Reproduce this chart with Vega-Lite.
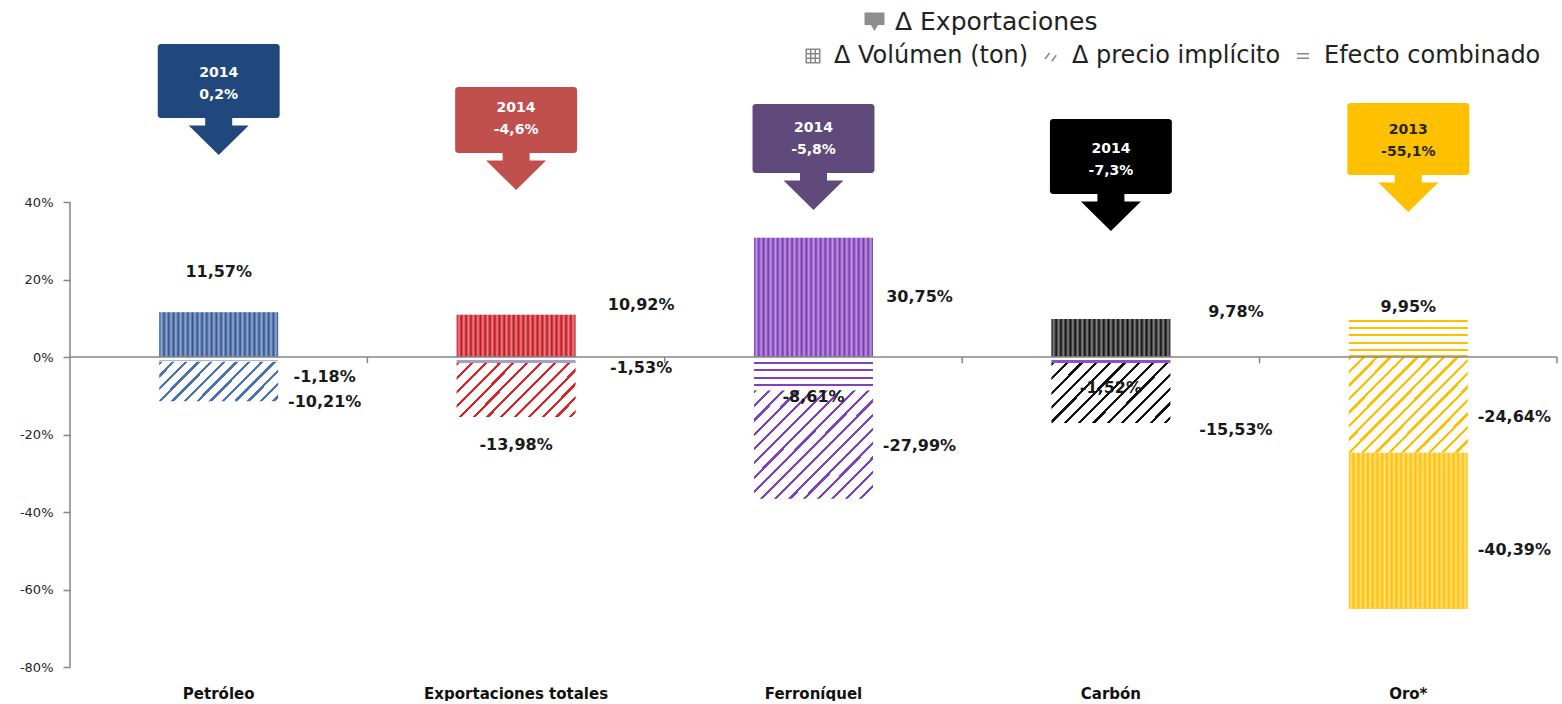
{
  "$schema": "https://vega.github.io/schema/vega-lite/v6.json",
  "width": 1487,
  "height": 667,
  "padding": {"left": 5, "top": 0, "right": 5, "bottom": 0},
  "background": "white",
  "config": {
    "view": {"stroke": null},
    "axisX": {"grid": false, "domain": false, "ticks": false, "labelAngle": 0, "labelFont": "DejaVu Sans", "labelFontWeight": "bold", "labelFontSize": 15, "labelColor": "#111111", "labelPadding": 19, "labelLimit": 400},
    "axisY": {"grid": false, "domain": false, "ticks": true, "tickSize": 7, "tickColor": "#868686", "tickWidth": 1.5, "labelPadding": 10, "labelFont": "DejaVu Sans", "labelFontSize": 13, "labelColor": "#262626", "minExtent": 65, "maxExtent": 65}
  },
  "datasets": {
    "seg": [
      {"cat": "Petróleo", "serie": "Δ Volúmen (ton)", "n": 3, "v": 11.57},
      {"cat": "Petróleo", "serie": "Δ precio implícito", "n": 2, "v": -10.21},
      {"cat": "Petróleo", "serie": "Efecto combinado", "n": 1, "v": -1.18},
      {"cat": "Exportaciones totales", "serie": "Δ Volúmen (ton)", "n": 3, "v": 10.92},
      {"cat": "Exportaciones totales", "serie": "Δ precio implícito", "n": 2, "v": -13.98},
      {"cat": "Exportaciones totales", "serie": "Efecto combinado", "n": 1, "v": -1.53},
      {"cat": "Ferroníquel", "serie": "Δ Volúmen (ton)", "n": 3, "v": 30.75},
      {"cat": "Ferroníquel", "serie": "Δ precio implícito", "n": 2, "v": -27.99},
      {"cat": "Ferroníquel", "serie": "Efecto combinado", "n": 1, "v": -8.61},
      {"cat": "Carbón", "serie": "Δ Volúmen (ton)", "n": 3, "v": 9.78},
      {"cat": "Carbón", "serie": "Δ precio implícito", "n": 2, "v": -15.53},
      {"cat": "Carbón", "serie": "Efecto combinado", "n": 1, "v": -1.52},
      {"cat": "Oro*", "serie": "Δ Volúmen (ton)", "n": 3, "v": -40.39},
      {"cat": "Oro*", "serie": "Δ precio implícito", "n": 2, "v": -24.64},
      {"cat": "Oro*", "serie": "Efecto combinado", "n": 1, "v": 9.95}
    ],
    "lab": [
      {"cat": "Petróleo", "txt": "11,57%", "ly": 21.9, "pos": "c"},
      {"cat": "Petróleo", "txt": "-1,18%", "ly": -5.2, "pos": "r1"},
      {"cat": "Petróleo", "txt": "-10,21%", "ly": -11.6, "pos": "r1"},
      {"cat": "Exportaciones totales", "txt": "10,92%", "ly": 13.4, "pos": "r2"},
      {"cat": "Exportaciones totales", "txt": "-1,53%", "ly": -2.8, "pos": "r2"},
      {"cat": "Exportaciones totales", "txt": "-13,98%", "ly": -22.7, "pos": "c"},
      {"cat": "Ferroníquel", "txt": "30,75%", "ly": 15.5, "pos": "r1"},
      {"cat": "Ferroníquel", "txt": "-8,61%", "ly": -10.3, "pos": "c"},
      {"cat": "Ferroníquel", "txt": "-27,99%", "ly": -23.0, "pos": "r1"},
      {"cat": "Carbón", "txt": "9,78%", "ly": 11.6, "pos": "r2"},
      {"cat": "Carbón", "txt": "-1,52%", "ly": -8.0, "pos": "c"},
      {"cat": "Carbón", "txt": "-15,53%", "ly": -18.8, "pos": "r2"},
      {"cat": "Oro*", "txt": "9,95%", "ly": 12.9, "pos": "c"},
      {"cat": "Oro*", "txt": "-24,64%", "ly": -15.5, "pos": "r1"},
      {"cat": "Oro*", "txt": "-40,39%", "ly": -49.8, "pos": "r1"}
    ],
    "call": [
      {"cat": "Petróleo", "yr": "2014", "txt": "0,2%", "top": 80.77, "bot": 61.68, "leg": "Δ Exportaciones"},
      {"cat": "Exportaciones totales", "yr": "2014", "txt": "-4,6%", "top": 69.68, "bot": 52.65, "leg": "Δ Exportaciones"},
      {"cat": "Ferroníquel", "yr": "2014", "txt": "-5,8%", "top": 65.29, "bot": 47.48, "leg": "Δ Exportaciones"},
      {"cat": "Carbón", "yr": "2014", "txt": "-7,3%", "top": 61.42, "bot": 42.06, "leg": "Δ Exportaciones"},
      {"cat": "Oro*", "yr": "2013", "txt": "-55,1%", "top": 65.55, "bot": 46.97, "leg": "Δ Exportaciones"}
    ],
    "series": [
      {"serie": "Δ Volúmen (ton)", "cat": "Petróleo"},
      {"serie": "Δ precio implícito", "cat": "Petróleo"},
      {"serie": "Efecto combinado", "cat": "Petróleo"}
    ]
  },
  "layer": [
    {
      "data": {"values": [{"z": 0}]},
      "mark": {"type": "rule", "color": "#868686", "strokeWidth": 1.5},
      "encoding": {
        "x": {"datum": "Petróleo", "type": "nominal", "bandPosition": 0, "title": null,
          "scale": {"domain": ["Petróleo", "Exportaciones totales", "Ferroníquel", "Carbón", "Oro*"], "paddingInner": 0, "paddingOuter": 0}},
        "y": {"datum": -80, "type": "quantitative", "title": null,
          "scale": {"domain": [-80, 92.13], "nice": false, "zero": false},
          "axis": {"values": [-80, -60, -40, -20, 0, 20, 40], "labelExpr": "datum.value + '%'"}},
        "y2": {"datum": 40}
      }
    },
    {
      "data": {"name": "seg"},
      "transform": [{"stack": "v", "groupby": ["cat"], "sort": [{"field": "n", "order": "ascending"}], "as": ["y0", "y1"]}],
      "encoding": {
        "x": {"field": "cat", "type": "nominal", "title": null, "scale": {"domain": ["Petróleo", "Exportaciones totales", "Ferroníquel", "Carbón", "Oro*"], "paddingInner": 0, "paddingOuter": 0}},
        "y": {"field": "y0", "type": "quantitative", "title": null, "scale": {"domain": [-80, 92.13], "nice": false, "zero": false}},
        "y2": {"field": "y1"}
      },
      "layer": [
        {
          "transform": [{"filter": "datum.n == 3"}],
          "mark": {"type": "bar", "width": {"band": 0.4}},
          "encoding": {"color": {"field": "cat", "type": "nominal", "scale": {"domain": ["Petróleo", "Exportaciones totales", "Ferroníquel", "Carbón", "Oro*"], "range": ["#2f5597", "#c8101a", "#7a36b8", "#0d0d0d", "#ffc000"]}, "legend": null}}
        },
        {
          "transform": [{"filter": "datum.n == 3"}],
          "mark": {"type": "bar", "width": {"band": 0.4}, "fill": {"gradient": "linear", "x1": 0, "y1": 0, "x2": 1, "y2": 0, "stops": [
            {"offset": 0, "color": "rgba(255,255,255,0)"}, {"offset": 0.02, "color": "rgba(255,255,255,0.5)"},
            {"offset": 0.04, "color": "rgba(255,255,255,0)"}, {"offset": 0.06, "color": "rgba(255,255,255,0.5)"},
            {"offset": 0.08, "color": "rgba(255,255,255,0)"}, {"offset": 0.1, "color": "rgba(255,255,255,0.5)"},
            {"offset": 0.12, "color": "rgba(255,255,255,0)"}, {"offset": 0.14, "color": "rgba(255,255,255,0.5)"},
            {"offset": 0.16, "color": "rgba(255,255,255,0)"}, {"offset": 0.18, "color": "rgba(255,255,255,0.5)"},
            {"offset": 0.2, "color": "rgba(255,255,255,0)"}, {"offset": 0.22, "color": "rgba(255,255,255,0.5)"},
            {"offset": 0.24, "color": "rgba(255,255,255,0)"}, {"offset": 0.26, "color": "rgba(255,255,255,0.5)"},
            {"offset": 0.28, "color": "rgba(255,255,255,0)"}, {"offset": 0.3, "color": "rgba(255,255,255,0.5)"},
            {"offset": 0.32, "color": "rgba(255,255,255,0)"}, {"offset": 0.34, "color": "rgba(255,255,255,0.5)"},
            {"offset": 0.36, "color": "rgba(255,255,255,0)"}, {"offset": 0.38, "color": "rgba(255,255,255,0.5)"},
            {"offset": 0.4, "color": "rgba(255,255,255,0)"}, {"offset": 0.42, "color": "rgba(255,255,255,0.5)"},
            {"offset": 0.44, "color": "rgba(255,255,255,0)"}, {"offset": 0.46, "color": "rgba(255,255,255,0.5)"},
            {"offset": 0.48, "color": "rgba(255,255,255,0)"}, {"offset": 0.5, "color": "rgba(255,255,255,0.5)"},
            {"offset": 0.52, "color": "rgba(255,255,255,0)"}, {"offset": 0.54, "color": "rgba(255,255,255,0.5)"},
            {"offset": 0.56, "color": "rgba(255,255,255,0)"}, {"offset": 0.58, "color": "rgba(255,255,255,0.5)"},
            {"offset": 0.6, "color": "rgba(255,255,255,0)"}, {"offset": 0.62, "color": "rgba(255,255,255,0.5)"},
            {"offset": 0.64, "color": "rgba(255,255,255,0)"}, {"offset": 0.66, "color": "rgba(255,255,255,0.5)"},
            {"offset": 0.68, "color": "rgba(255,255,255,0)"}, {"offset": 0.7, "color": "rgba(255,255,255,0.5)"},
            {"offset": 0.72, "color": "rgba(255,255,255,0)"}, {"offset": 0.74, "color": "rgba(255,255,255,0.5)"},
            {"offset": 0.76, "color": "rgba(255,255,255,0)"}, {"offset": 0.78, "color": "rgba(255,255,255,0.5)"},
            {"offset": 0.8, "color": "rgba(255,255,255,0)"}, {"offset": 0.82, "color": "rgba(255,255,255,0.5)"},
            {"offset": 0.84, "color": "rgba(255,255,255,0)"}, {"offset": 0.86, "color": "rgba(255,255,255,0.5)"},
            {"offset": 0.88, "color": "rgba(255,255,255,0)"}, {"offset": 0.9, "color": "rgba(255,255,255,0.5)"},
            {"offset": 0.92, "color": "rgba(255,255,255,0)"}, {"offset": 0.94, "color": "rgba(255,255,255,0.5)"},
            {"offset": 0.96, "color": "rgba(255,255,255,0)"}, {"offset": 0.98, "color": "rgba(255,255,255,0.5)"},
            {"offset": 1, "color": "rgba(255,255,255,0)"}
          ]}}
        },
        {
          "transform": [{"filter": "datum.n == 2 && datum.cat == 'Petróleo'"}],
          "mark": {"type": "bar", "width": {"band": 0.4}, "fill": {"gradient": "linear", "x1": 0, "y1": 0, "x2": 1.199, "y2": 0.395, "stops": [
            {"offset": 0, "color": "#4a72b5"}, {"offset": 0.022, "color": "#4a72b5"}, {"offset": 0.022, "color": "#ffffff"}, {"offset": 0.08, "color": "#ffffff"},
            {"offset": 0.08, "color": "#4a72b5"}, {"offset": 0.102, "color": "#4a72b5"}, {"offset": 0.102, "color": "#ffffff"}, {"offset": 0.16, "color": "#ffffff"},
            {"offset": 0.16, "color": "#4a72b5"}, {"offset": 0.182, "color": "#4a72b5"}, {"offset": 0.182, "color": "#ffffff"}, {"offset": 0.24, "color": "#ffffff"},
            {"offset": 0.24, "color": "#4a72b5"}, {"offset": 0.262, "color": "#4a72b5"}, {"offset": 0.262, "color": "#ffffff"}, {"offset": 0.32, "color": "#ffffff"},
            {"offset": 0.32, "color": "#4a72b5"}, {"offset": 0.342, "color": "#4a72b5"}, {"offset": 0.342, "color": "#ffffff"}, {"offset": 0.4, "color": "#ffffff"},
            {"offset": 0.4, "color": "#4a72b5"}, {"offset": 0.422, "color": "#4a72b5"}, {"offset": 0.422, "color": "#ffffff"}, {"offset": 0.48, "color": "#ffffff"},
            {"offset": 0.48, "color": "#4a72b5"}, {"offset": 0.502, "color": "#4a72b5"}, {"offset": 0.502, "color": "#ffffff"}, {"offset": 0.56, "color": "#ffffff"},
            {"offset": 0.56, "color": "#4a72b5"}, {"offset": 0.582, "color": "#4a72b5"}, {"offset": 0.582, "color": "#ffffff"}, {"offset": 0.64, "color": "#ffffff"},
            {"offset": 0.64, "color": "#4a72b5"}, {"offset": 0.662, "color": "#4a72b5"}, {"offset": 0.662, "color": "#ffffff"}, {"offset": 0.72, "color": "#ffffff"},
            {"offset": 0.72, "color": "#4a72b5"}, {"offset": 0.742, "color": "#4a72b5"}, {"offset": 0.742, "color": "#ffffff"}, {"offset": 0.8, "color": "#ffffff"},
            {"offset": 0.8, "color": "#4a72b5"}, {"offset": 0.822, "color": "#4a72b5"}, {"offset": 0.822, "color": "#ffffff"}, {"offset": 0.88, "color": "#ffffff"},
            {"offset": 0.88, "color": "#4a72b5"}, {"offset": 0.902, "color": "#4a72b5"}, {"offset": 0.902, "color": "#ffffff"}, {"offset": 0.96, "color": "#ffffff"},
            {"offset": 0.96, "color": "#4a72b5"}, {"offset": 0.982, "color": "#4a72b5"}, {"offset": 0.982, "color": "#ffffff"}, {"offset": 1, "color": "#ffffff"}
          ]}}
        },
        {
          "transform": [{"filter": "datum.n == 2 && datum.cat == 'Exportaciones totales'"}],
          "mark": {"type": "bar", "width": {"band": 0.4}, "fill": {"gradient": "linear", "x1": 0, "y1": 0, "x2": 1.206, "y2": 0.544, "stops": [
            {"offset": 0, "color": "#d9252a"}, {"offset": 0.018, "color": "#d9252a"}, {"offset": 0.018, "color": "#ffffff"}, {"offset": 0.08, "color": "#ffffff"},
            {"offset": 0.08, "color": "#d9252a"}, {"offset": 0.098, "color": "#d9252a"}, {"offset": 0.098, "color": "#ffffff"}, {"offset": 0.16, "color": "#ffffff"},
            {"offset": 0.16, "color": "#d9252a"}, {"offset": 0.178, "color": "#d9252a"}, {"offset": 0.178, "color": "#ffffff"}, {"offset": 0.24, "color": "#ffffff"},
            {"offset": 0.24, "color": "#d9252a"}, {"offset": 0.258, "color": "#d9252a"}, {"offset": 0.258, "color": "#ffffff"}, {"offset": 0.32, "color": "#ffffff"},
            {"offset": 0.32, "color": "#d9252a"}, {"offset": 0.338, "color": "#d9252a"}, {"offset": 0.338, "color": "#ffffff"}, {"offset": 0.4, "color": "#ffffff"},
            {"offset": 0.4, "color": "#d9252a"}, {"offset": 0.418, "color": "#d9252a"}, {"offset": 0.418, "color": "#ffffff"}, {"offset": 0.48, "color": "#ffffff"},
            {"offset": 0.48, "color": "#d9252a"}, {"offset": 0.498, "color": "#d9252a"}, {"offset": 0.498, "color": "#ffffff"}, {"offset": 0.56, "color": "#ffffff"},
            {"offset": 0.56, "color": "#d9252a"}, {"offset": 0.578, "color": "#d9252a"}, {"offset": 0.578, "color": "#ffffff"}, {"offset": 0.64, "color": "#ffffff"},
            {"offset": 0.64, "color": "#d9252a"}, {"offset": 0.658, "color": "#d9252a"}, {"offset": 0.658, "color": "#ffffff"}, {"offset": 0.72, "color": "#ffffff"},
            {"offset": 0.72, "color": "#d9252a"}, {"offset": 0.738, "color": "#d9252a"}, {"offset": 0.738, "color": "#ffffff"}, {"offset": 0.8, "color": "#ffffff"},
            {"offset": 0.8, "color": "#d9252a"}, {"offset": 0.818, "color": "#d9252a"}, {"offset": 0.818, "color": "#ffffff"}, {"offset": 0.88, "color": "#ffffff"},
            {"offset": 0.88, "color": "#d9252a"}, {"offset": 0.898, "color": "#d9252a"}, {"offset": 0.898, "color": "#ffffff"}, {"offset": 0.96, "color": "#ffffff"},
            {"offset": 0.96, "color": "#d9252a"}, {"offset": 0.978, "color": "#d9252a"}, {"offset": 0.978, "color": "#ffffff"}, {"offset": 1, "color": "#ffffff"}
          ]}}
        },
        {
          "transform": [{"filter": "datum.n == 2 && datum.cat == 'Ferroníquel'"}],
          "mark": {"type": "bar", "width": {"band": 0.4}, "fill": {"gradient": "linear", "x1": 0, "y1": 0, "x2": 1.048, "y2": 0.947, "stops": [
            {"offset": 0, "color": "#8041bf"}, {"offset": 0.014, "color": "#8041bf"}, {"offset": 0.014, "color": "#ffffff"}, {"offset": 0.0625, "color": "#ffffff"},
            {"offset": 0.0625, "color": "#8041bf"}, {"offset": 0.0765, "color": "#8041bf"}, {"offset": 0.0765, "color": "#ffffff"}, {"offset": 0.125, "color": "#ffffff"},
            {"offset": 0.125, "color": "#8041bf"}, {"offset": 0.139, "color": "#8041bf"}, {"offset": 0.139, "color": "#ffffff"}, {"offset": 0.1875, "color": "#ffffff"},
            {"offset": 0.1875, "color": "#8041bf"}, {"offset": 0.2015, "color": "#8041bf"}, {"offset": 0.2015, "color": "#ffffff"}, {"offset": 0.25, "color": "#ffffff"},
            {"offset": 0.25, "color": "#8041bf"}, {"offset": 0.264, "color": "#8041bf"}, {"offset": 0.264, "color": "#ffffff"}, {"offset": 0.3125, "color": "#ffffff"},
            {"offset": 0.3125, "color": "#8041bf"}, {"offset": 0.3265, "color": "#8041bf"}, {"offset": 0.3265, "color": "#ffffff"}, {"offset": 0.375, "color": "#ffffff"},
            {"offset": 0.375, "color": "#8041bf"}, {"offset": 0.389, "color": "#8041bf"}, {"offset": 0.389, "color": "#ffffff"}, {"offset": 0.4375, "color": "#ffffff"},
            {"offset": 0.4375, "color": "#8041bf"}, {"offset": 0.4515, "color": "#8041bf"}, {"offset": 0.4515, "color": "#ffffff"}, {"offset": 0.5, "color": "#ffffff"},
            {"offset": 0.5, "color": "#8041bf"}, {"offset": 0.514, "color": "#8041bf"}, {"offset": 0.514, "color": "#ffffff"}, {"offset": 0.5625, "color": "#ffffff"},
            {"offset": 0.5625, "color": "#8041bf"}, {"offset": 0.5765, "color": "#8041bf"}, {"offset": 0.5765, "color": "#ffffff"}, {"offset": 0.625, "color": "#ffffff"},
            {"offset": 0.625, "color": "#8041bf"}, {"offset": 0.639, "color": "#8041bf"}, {"offset": 0.639, "color": "#ffffff"}, {"offset": 0.6875, "color": "#ffffff"},
            {"offset": 0.6875, "color": "#8041bf"}, {"offset": 0.7015, "color": "#8041bf"}, {"offset": 0.7015, "color": "#ffffff"}, {"offset": 0.75, "color": "#ffffff"},
            {"offset": 0.75, "color": "#8041bf"}, {"offset": 0.764, "color": "#8041bf"}, {"offset": 0.764, "color": "#ffffff"}, {"offset": 0.8125, "color": "#ffffff"},
            {"offset": 0.8125, "color": "#8041bf"}, {"offset": 0.8265, "color": "#8041bf"}, {"offset": 0.8265, "color": "#ffffff"}, {"offset": 0.875, "color": "#ffffff"},
            {"offset": 0.875, "color": "#8041bf"}, {"offset": 0.889, "color": "#8041bf"}, {"offset": 0.889, "color": "#ffffff"}, {"offset": 0.9375, "color": "#ffffff"},
            {"offset": 0.9375, "color": "#8041bf"}, {"offset": 0.9515, "color": "#8041bf"}, {"offset": 0.9515, "color": "#ffffff"}, {"offset": 1, "color": "#ffffff"}
          ]}}
        },
        {
          "transform": [{"filter": "datum.n == 2 && datum.cat == 'Carbón'"}],
          "mark": {"type": "bar", "width": {"band": 0.4}, "fill": {"gradient": "linear", "x1": 0, "y1": 0, "x2": 1.2, "y2": 0.602, "stops": [
            {"offset": 0, "color": "#111111"}, {"offset": 0.018, "color": "#111111"}, {"offset": 0.018, "color": "#ffffff"}, {"offset": 0.08, "color": "#ffffff"},
            {"offset": 0.08, "color": "#111111"}, {"offset": 0.098, "color": "#111111"}, {"offset": 0.098, "color": "#ffffff"}, {"offset": 0.16, "color": "#ffffff"},
            {"offset": 0.16, "color": "#111111"}, {"offset": 0.178, "color": "#111111"}, {"offset": 0.178, "color": "#ffffff"}, {"offset": 0.24, "color": "#ffffff"},
            {"offset": 0.24, "color": "#111111"}, {"offset": 0.258, "color": "#111111"}, {"offset": 0.258, "color": "#ffffff"}, {"offset": 0.32, "color": "#ffffff"},
            {"offset": 0.32, "color": "#111111"}, {"offset": 0.338, "color": "#111111"}, {"offset": 0.338, "color": "#ffffff"}, {"offset": 0.4, "color": "#ffffff"},
            {"offset": 0.4, "color": "#111111"}, {"offset": 0.418, "color": "#111111"}, {"offset": 0.418, "color": "#ffffff"}, {"offset": 0.48, "color": "#ffffff"},
            {"offset": 0.48, "color": "#111111"}, {"offset": 0.498, "color": "#111111"}, {"offset": 0.498, "color": "#ffffff"}, {"offset": 0.56, "color": "#ffffff"},
            {"offset": 0.56, "color": "#111111"}, {"offset": 0.578, "color": "#111111"}, {"offset": 0.578, "color": "#ffffff"}, {"offset": 0.64, "color": "#ffffff"},
            {"offset": 0.64, "color": "#111111"}, {"offset": 0.658, "color": "#111111"}, {"offset": 0.658, "color": "#ffffff"}, {"offset": 0.72, "color": "#ffffff"},
            {"offset": 0.72, "color": "#111111"}, {"offset": 0.738, "color": "#111111"}, {"offset": 0.738, "color": "#ffffff"}, {"offset": 0.8, "color": "#ffffff"},
            {"offset": 0.8, "color": "#111111"}, {"offset": 0.818, "color": "#111111"}, {"offset": 0.818, "color": "#ffffff"}, {"offset": 0.88, "color": "#ffffff"},
            {"offset": 0.88, "color": "#111111"}, {"offset": 0.898, "color": "#111111"}, {"offset": 0.898, "color": "#ffffff"}, {"offset": 0.96, "color": "#ffffff"},
            {"offset": 0.96, "color": "#111111"}, {"offset": 0.978, "color": "#111111"}, {"offset": 0.978, "color": "#ffffff"}, {"offset": 1, "color": "#ffffff"}
          ]}}
        },
        {
          "transform": [{"filter": "datum.n == 2 && datum.cat == 'Oro*'"}],
          "mark": {"type": "bar", "width": {"band": 0.4}, "fill": {"gradient": "linear", "x1": 0, "y1": 0, "x2": 1.0996, "y2": 0.875, "stops": [
            {"offset": 0, "color": "#ffc000"}, {"offset": 0.016, "color": "#ffc000"}, {"offset": 0.016, "color": "#ffffff"}, {"offset": 0.0625, "color": "#ffffff"},
            {"offset": 0.0625, "color": "#ffc000"}, {"offset": 0.0785, "color": "#ffc000"}, {"offset": 0.0785, "color": "#ffffff"}, {"offset": 0.125, "color": "#ffffff"},
            {"offset": 0.125, "color": "#ffc000"}, {"offset": 0.141, "color": "#ffc000"}, {"offset": 0.141, "color": "#ffffff"}, {"offset": 0.1875, "color": "#ffffff"},
            {"offset": 0.1875, "color": "#ffc000"}, {"offset": 0.2035, "color": "#ffc000"}, {"offset": 0.2035, "color": "#ffffff"}, {"offset": 0.25, "color": "#ffffff"},
            {"offset": 0.25, "color": "#ffc000"}, {"offset": 0.266, "color": "#ffc000"}, {"offset": 0.266, "color": "#ffffff"}, {"offset": 0.3125, "color": "#ffffff"},
            {"offset": 0.3125, "color": "#ffc000"}, {"offset": 0.3285, "color": "#ffc000"}, {"offset": 0.3285, "color": "#ffffff"}, {"offset": 0.375, "color": "#ffffff"},
            {"offset": 0.375, "color": "#ffc000"}, {"offset": 0.391, "color": "#ffc000"}, {"offset": 0.391, "color": "#ffffff"}, {"offset": 0.4375, "color": "#ffffff"},
            {"offset": 0.4375, "color": "#ffc000"}, {"offset": 0.4535, "color": "#ffc000"}, {"offset": 0.4535, "color": "#ffffff"}, {"offset": 0.5, "color": "#ffffff"},
            {"offset": 0.5, "color": "#ffc000"}, {"offset": 0.516, "color": "#ffc000"}, {"offset": 0.516, "color": "#ffffff"}, {"offset": 0.5625, "color": "#ffffff"},
            {"offset": 0.5625, "color": "#ffc000"}, {"offset": 0.5785, "color": "#ffc000"}, {"offset": 0.5785, "color": "#ffffff"}, {"offset": 0.625, "color": "#ffffff"},
            {"offset": 0.625, "color": "#ffc000"}, {"offset": 0.641, "color": "#ffc000"}, {"offset": 0.641, "color": "#ffffff"}, {"offset": 0.6875, "color": "#ffffff"},
            {"offset": 0.6875, "color": "#ffc000"}, {"offset": 0.7035, "color": "#ffc000"}, {"offset": 0.7035, "color": "#ffffff"}, {"offset": 0.75, "color": "#ffffff"},
            {"offset": 0.75, "color": "#ffc000"}, {"offset": 0.766, "color": "#ffc000"}, {"offset": 0.766, "color": "#ffffff"}, {"offset": 0.8125, "color": "#ffffff"},
            {"offset": 0.8125, "color": "#ffc000"}, {"offset": 0.8285, "color": "#ffc000"}, {"offset": 0.8285, "color": "#ffffff"}, {"offset": 0.875, "color": "#ffffff"},
            {"offset": 0.875, "color": "#ffc000"}, {"offset": 0.891, "color": "#ffc000"}, {"offset": 0.891, "color": "#ffffff"}, {"offset": 0.9375, "color": "#ffffff"},
            {"offset": 0.9375, "color": "#ffc000"}, {"offset": 0.9535, "color": "#ffc000"}, {"offset": 0.9535, "color": "#ffffff"}, {"offset": 1, "color": "#ffffff"}
          ]}}
        },
        {
          "transform": [{"filter": "datum.n == 1 && datum.cat == 'Ferroníquel'"}],
          "mark": {"type": "bar", "width": {"band": 0.4}, "fill": {"gradient": "linear", "x1": 0, "y1": 0, "x2": 0, "y2": 1, "stops": [
            {"offset": 0, "color": "#ffffff"}, {"offset": 0.15, "color": "#ffffff"}, {"offset": 0.15, "color": "#8041bf"}, {"offset": 0.21, "color": "#8041bf"},
            {"offset": 0.21, "color": "#ffffff"}, {"offset": 0.374, "color": "#ffffff"}, {"offset": 0.374, "color": "#8041bf"}, {"offset": 0.434, "color": "#8041bf"},
            {"offset": 0.434, "color": "#ffffff"}, {"offset": 0.599, "color": "#ffffff"}, {"offset": 0.599, "color": "#8041bf"}, {"offset": 0.659, "color": "#8041bf"},
            {"offset": 0.659, "color": "#ffffff"}, {"offset": 0.823, "color": "#ffffff"}, {"offset": 0.823, "color": "#8041bf"}, {"offset": 0.883, "color": "#8041bf"},
            {"offset": 0.883, "color": "#ffffff"}, {"offset": 1, "color": "#ffffff"}
          ]}}
        },
        {
          "transform": [{"filter": "datum.n == 1 && datum.cat == 'Oro*'"}],
          "mark": {"type": "bar", "width": {"band": 0.4}, "fill": {"gradient": "linear", "x1": 0, "y1": 0, "x2": 0, "y2": 1, "stops": [
            {"offset": 0, "color": "#ffffff"}, {"offset": 0.039, "color": "#ffffff"}, {"offset": 0.039, "color": "#ffc000"}, {"offset": 0.091, "color": "#ffc000"},
            {"offset": 0.091, "color": "#ffffff"}, {"offset": 0.22, "color": "#ffffff"}, {"offset": 0.22, "color": "#ffc000"}, {"offset": 0.272, "color": "#ffc000"},
            {"offset": 0.272, "color": "#ffffff"}, {"offset": 0.402, "color": "#ffffff"}, {"offset": 0.402, "color": "#ffc000"}, {"offset": 0.453, "color": "#ffc000"},
            {"offset": 0.453, "color": "#ffffff"}, {"offset": 0.609, "color": "#ffffff"}, {"offset": 0.609, "color": "#ffc000"}, {"offset": 0.661, "color": "#ffc000"},
            {"offset": 0.661, "color": "#ffffff"}, {"offset": 0.79, "color": "#ffffff"}, {"offset": 0.79, "color": "#ffc000"}, {"offset": 0.842, "color": "#ffc000"},
            {"offset": 0.842, "color": "#ffffff"}, {"offset": 0.948, "color": "#ffffff"}, {"offset": 0.948, "color": "#ffc000"}, {"offset": 1, "color": "#ffc000"}
          ]}}
        },
        {
          "transform": [{"filter": "datum.n == 1 && datum.cat == 'Petróleo'"}],
          "mark": {"type": "bar", "width": {"band": 0.4}, "fill": {"gradient": "linear", "x1": 0, "y1": 0, "x2": 0, "y2": 1, "stops": [
            {"offset": 0, "color": "#ffffff"}, {"offset": 0.55, "color": "#ffffff"}, {"offset": 0.55, "color": "#a9b8d8"}, {"offset": 0.95, "color": "#a9b8d8"}, {"offset": 0.95, "color": "#ffffff"}, {"offset": 1, "color": "#ffffff"}
          ]}}
        },
        {
          "transform": [{"filter": "datum.n == 1 && datum.cat == 'Exportaciones totales'"}],
          "mark": {"type": "bar", "width": {"band": 0.4}, "fill": {"gradient": "linear", "x1": 0, "y1": 0, "x2": 0, "y2": 1, "stops": [
            {"offset": 0, "color": "#ffffff"}, {"offset": 0.55, "color": "#ffffff"}, {"offset": 0.55, "color": "#a99cc9"}, {"offset": 0.95, "color": "#a99cc9"}, {"offset": 0.95, "color": "#ffffff"}, {"offset": 1, "color": "#ffffff"}
          ]}}
        },
        {
          "transform": [{"filter": "datum.n == 1 && datum.cat == 'Carbón'"}],
          "mark": {"type": "bar", "width": {"band": 0.4}, "fill": {"gradient": "linear", "x1": 0, "y1": 0, "x2": 0, "y2": 1, "stops": [
            {"offset": 0, "color": "#ffffff"}, {"offset": 0.55, "color": "#ffffff"}, {"offset": 0.55, "color": "#8e4fc9"}, {"offset": 0.95, "color": "#8e4fc9"}, {"offset": 0.95, "color": "#ffffff"}, {"offset": 1, "color": "#ffffff"}
          ]}}
        }
      ]
    },
    {
      "data": {"values": [{"cat": "Petróleo"}]},
      "mark": {"type": "rule", "color": "#868686", "strokeWidth": 1.5},
      "encoding": {"y": {"datum": 0, "type": "quantitative", "title": null, "scale": {"domain": [-80, 92.13], "nice": false, "zero": false}}}
    },
    {
      "data": {"name": "series"},
      "mark": {"type": "point", "filled": false, "size": 0},
      "encoding": {
        "x": {"field": "cat", "type": "nominal", "title": null, "scale": {"domain": ["Petróleo", "Exportaciones totales", "Ferroníquel", "Carbón", "Oro*"], "paddingInner": 0, "paddingOuter": 0}},
        "y": {"datum": 0, "type": "quantitative", "title": null, "scale": {"domain": [-80, 92.13], "nice": false, "zero": false}},
        "shape": {"field": "serie", "type": "nominal",
          "scale": {"domain": ["Δ Volúmen (ton)", "Δ precio implícito", "Efecto combinado"], "range": ["M-0.9,-0.9H0.9V0.9H-0.9ZM-0.3,-0.9V0.9M0.3,-0.9V0.9M-0.9,-0.3H0.9M-0.9,0.3H0.9", "M-0.8,0.4L-0.2,-0.4M0.1,0.7L0.7,-0.1", "M-0.8,-0.3H0.8M-0.8,0.3H0.8"]},
          "legend": {"title": null, "orient": "none", "legendX": 731, "legendY": 44, "direction": "horizontal", "labelFont": "DejaVu Sans", "labelFontSize": 24, "labelColor": "#222222", "labelLimit": 600, "symbolSize": 225, "symbolStrokeWidth": 1.5, "symbolOpacity": 1, "columnPadding": 10, "labelOffset": 9, "padding": 0}},
        "color": {"field": "serie", "type": "nominal",
          "scale": {"domain": ["Δ Volúmen (ton)", "Δ precio implícito", "Efecto combinado"], "range": ["#8c8c8c", "#6f86b8", "#8a6bb0"]},
          "legend": {"title": null, "orient": "none", "legendX": 731, "legendY": 44, "direction": "horizontal", "labelFont": "DejaVu Sans", "labelFontSize": 24, "labelColor": "#222222", "labelLimit": 600, "symbolSize": 225, "symbolStrokeWidth": 1.5, "symbolOpacity": 1, "columnPadding": 10, "labelOffset": 9, "padding": 0}}
      }
    },
    {
      "data": {"name": "call"},
      "encoding": {
        "x": {"field": "cat", "type": "nominal", "title": null, "scale": {"domain": ["Petróleo", "Exportaciones totales", "Ferroníquel", "Carbón", "Oro*"], "paddingInner": 0, "paddingOuter": 0}}
      },
      "layer": [
        {
          "mark": {"type": "bar", "width": {"band": 0.41}, "cornerRadius": 3},
          "encoding": {
            "y": {"field": "top", "type": "quantitative", "title": null, "scale": {"domain": [-80, 92.13], "nice": false, "zero": false}},
            "y2": {"field": "bot"},
            "fill": {"field": "cat", "type": "nominal", "scale": {"domain": ["Petróleo", "Exportaciones totales", "Ferroníquel", "Carbón", "Oro*"], "range": ["#21487d", "#c0504d", "#604a7b", "#000000", "#ffc000"]}, "legend": null}
          }
        },
        {
          "mark": {"type": "point", "shape": "M-0.45,-0.1L0.45,-0.1L0.45,0.25L1,0.25L0,1.23L-1,0.25L-0.45,0.25Z", "size": 3600, "filled": true, "opacity": 1, "strokeWidth": 0},
          "encoding": {
            "y": {"field": "bot", "type": "quantitative", "title": null, "scale": {"domain": [-80, 92.13], "nice": false, "zero": false}},
            "fill": {"field": "cat", "type": "nominal", "scale": {"domain": ["Petróleo", "Exportaciones totales", "Ferroníquel", "Carbón", "Oro*"], "range": ["#21487d", "#c0504d", "#604a7b", "#000000", "#ffc000"]}, "legend": null}
          }
        },
        {
          "mark": {"type": "text", "dy": -45, "font": "DejaVu Sans", "fontWeight": "bold", "fontSize": 14},
          "encoding": {
            "y": {"field": "bot", "type": "quantitative", "title": null, "scale": {"domain": [-80, 92.13], "nice": false, "zero": false}},
            "text": {"field": "yr", "type": "nominal"},
            "color": {"condition": {"test": "datum.cat === 'Oro*'", "value": "#262626"}, "value": "#ffffff"}
          }
        },
        {
          "mark": {"type": "text", "dy": -23, "font": "DejaVu Sans", "fontWeight": "bold", "fontSize": 14},
          "encoding": {
            "y": {"field": "bot", "type": "quantitative", "title": null, "scale": {"domain": [-80, 92.13], "nice": false, "zero": false}},
            "text": {"field": "txt", "type": "nominal"},
            "color": {"condition": {"test": "datum.cat === 'Oro*'", "value": "#262626"}, "value": "#ffffff"}
          }
        },
        {
          "mark": {"type": "rule", "color": "#868686", "strokeWidth": 1.5},
          "encoding": {
            "x": {"field": "cat", "type": "nominal", "bandPosition": 1, "title": null, "scale": {"domain": ["Petróleo", "Exportaciones totales", "Ferroníquel", "Carbón", "Oro*"], "paddingInner": 0, "paddingOuter": 0}},
            "y": {"datum": 0, "type": "quantitative", "title": null, "scale": {"domain": [-80, 92.13], "nice": false, "zero": false}},
            "y2": {"datum": -1.6}
          }
        },
        {
          "mark": {"type": "point", "filled": true, "color": "#8e8e8e", "size": 0},
          "encoding": {
            "y": {"field": "bot", "type": "quantitative", "title": null, "scale": {"domain": [-80, 92.13], "nice": false, "zero": false}},
            "shape": {"field": "leg", "type": "nominal", "scale": {"range": ["M-1,-0.9H1V0.35H0.35L0,0.95L-0.35,0.35H-1Z"]},
              "legend": {"title": null, "orient": "none", "legendX": 792, "legendY": 9, "labelFont": "DejaVu Sans", "labelFontSize": 25, "labelColor": "#222222", "labelLimit": 600, "symbolSize": 400, "symbolFillColor": "#8e8e8e", "symbolStrokeColor": "#8e8e8e", "symbolOpacity": 1, "labelOffset": 8, "padding": 0}}
          }
        }
      ]
    },
    {
      "data": {"name": "lab"},
      "encoding": {
        "x": {"field": "cat", "type": "nominal", "title": null, "scale": {"domain": ["Petróleo", "Exportaciones totales", "Ferroníquel", "Carbón", "Oro*"], "paddingInner": 0, "paddingOuter": 0}},
        "y": {"field": "ly", "type": "quantitative", "title": null, "scale": {"domain": [-80, 92.13], "nice": false, "zero": false}},
        "text": {"field": "txt", "type": "nominal"}
      },
      "layer": [
        {"transform": [{"filter": "datum.pos == 'c'"}], "mark": {"type": "text", "font": "DejaVu Sans", "fontWeight": "bold", "fontSize": 16, "color": "#1a1a1a"}},
        {"transform": [{"filter": "datum.pos == 'r1'"}], "mark": {"type": "text", "dx": 106, "font": "DejaVu Sans", "fontWeight": "bold", "fontSize": 16, "color": "#1a1a1a"}},
        {"transform": [{"filter": "datum.pos == 'r2'"}], "mark": {"type": "text", "dx": 125, "font": "DejaVu Sans", "fontWeight": "bold", "fontSize": 16, "color": "#1a1a1a"}}
      ]
    }
  ],
  "resolve": {"scale": {"shape": "independent"}}
}
